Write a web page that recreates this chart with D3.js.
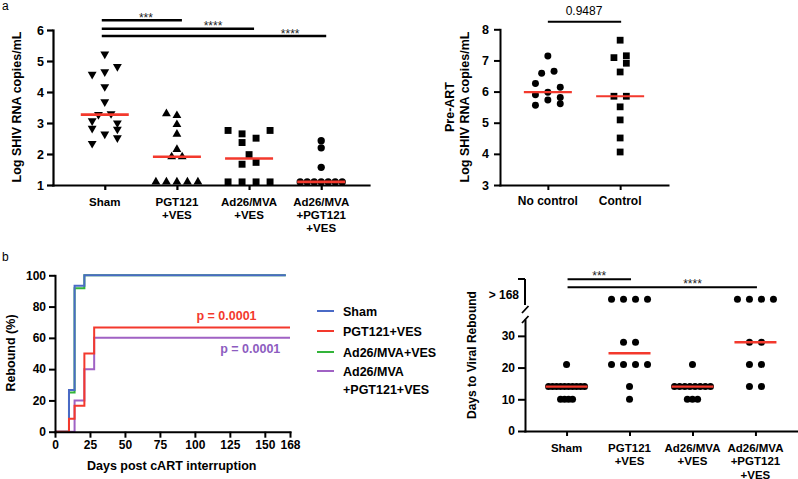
<!DOCTYPE html>
<html><head><meta charset="utf-8">
<script src="https://cdn.jsdelivr.net/npm/d3@7"></script>
<style>
body{margin:0;background:#fff}
svg{display:block}
</style></head><body>
<svg id="c" width="798" height="479"></svg>
<script>
// ---------------- DATA ----------------
const groups = ["Sham", "PGT121+VES", "Ad26/MVA+VES", "Ad26/MVA+PGT121+VES"];
const groupAxisLabels = [["Sham"], ["PGT121", "+VES"], ["Ad26/MVA", "+VES"], ["Ad26/MVA", "+PGT121", "+VES"]];
const legendLabels = [["Sham"], ["PGT121+VES"], ["Ad26/MVA+VES"], ["Ad26/MVA", "+PGT121+VES"]];

// Panel a (left): log SHIV RNA copies/mL
const vlSham  = [5.22, 4.82, 4.57, 4.65, 4.17, 3.68, 3.27, 3.30, 3.07, 3.00, 2.83, 2.80, 2.64, 2.52, 2.34];
const vlPgt   = [3.30, 3.24, 2.95, 2.64, 2.15, 1.91, 1.91, 1.1, 1.1, 1.1, 1.1, 1.1];
const vlAd26  = [2.76, 2.76, 2.65, 2.51, 2.37, 1.98, 1.73, 1.67, 1.1, 1.1, 1.1, 1.1];
const vlCombo = [2.43, 2.20, 1.57, 1.1, 1.1, 1.1, 1.1, 1.1, 1.1, 1.1];
// jitter column index of each point (scatter arrangement)
const colSham  = [0, 1.8, -1.8, 0, 0, 0, -0.9, 0.9, -1.8, 1.8, -1.8, 1.8, 0, 1.8, -1.8];
const colPgt   = [-1.5, 0, 0, 0, 0, -0.75, 0.75, -3, -1.5, 0, 1.5, 3];
const colAd26  = [-3, 3, -1, 1, -1, 0, 1, -1, -3, -1, 1, 3];
const colCombo = [0, 0, 0, -3, -2, -1, 0, 1, 2, 3];
const vlTicks = [1, 2, 3, 4, 5, 6];
const sigPairsA = [[0, 1], [0, 2], [0, 3]];
const sigTextA = ["***", "****", "****"];
const sigTextAtA = [0.57, 1.5, 2.57];

// Panel a (right): pre-ART viral loads
const preGroups = ["No control", "Control"];
const preNoControl = [7.14, 6.65, 6.59, 6.26, 6.14, 5.98, 5.90, 5.81, 5.73, 5.61, 5.56];
const preControl   = [7.65, 7.15, 7.09, 6.91, 6.63, 5.85, 5.85, 5.51, 5.09, 4.51, 4.06];
const colNoControl = [0, 1, -1, -2, 2, 0, -2, 2, 0, 2, -2];
const colControl   = [0, 1, -1, 1, 0, -1, 1, 0, 0, 0, 0];
const preTicks = [3, 4, 5, 6, 7, 8];
const preP = "0.9487";

// Panel b: days to viral rebound (Infinity = no rebound by day 168)
const NR = Infinity;
const daysSham  = [21, 14, 14, 14, 14, 14, 14, 14, 14, 14, 14, 10, 10, 10, 10];
const daysPgt   = [NR, NR, NR, NR, 28, 28, 21, 21, 21, 21, 14, 10];
const daysAd26  = [21, 14, 14, 14, 14, 14, 14, 14, 14, 10, 10, 10];
const daysCombo = [NR, NR, NR, NR, 28, 28, 21, 21, 14, 14];
const followUpEnd = [165, 168, 165, 168];
const kmXTicks = [0, 25, 50, 75, 100, 125, 150, 168];
const kmYTicks = [0, 20, 40, 60, 80, 100];
const kmPValues = ["p = 0.0001", "p = 0.0001"];
const reboundTicks = [0, 10, 20, 30];
const censoredLabel = "> 168";
const sigPairsB = [[0, 1], [0, 3]];
const sigTextB = ["***", "****"];
const sigTextAtB = [0.52, 2.0];

// ---------------- STYLE ----------------
const FONT = '"Liberation Sans", Arial, Helvetica, sans-serif';
const RED = "#f3392d";
const lineColors = ["#4a6ac6", "#f3392d", "#33b43a", "#a062c4"];
const pTextColors = ["#f3392d", "#8d5cc0"];

const svg = d3.select("#c").attr("font-family", FONT);

function styleAxis(g, sw, fs) {
  g.attr("font-family", FONT).attr("font-size", fs || 12).attr("font-weight", "bold");
  g.select(".domain").attr("stroke", "#000").attr("stroke-width", sw).attr("stroke-linecap", "square");
  g.selectAll(".tick line").attr("stroke", "#000").attr("stroke-width", sw);
  g.selectAll(".tick text").attr("fill", "#000");
}
function catLabels(g, scale, labels, y0, lh, fs) {
  labels.forEach((lines, i) => {
    const t = g.append("text").attr("x", scale(i)).attr("y", y0).attr("text-anchor", "middle")
      .attr("font-size", fs).attr("font-weight", "bold").attr("fill", "#000");
    lines.forEach((s, k) => t.append("tspan").attr("x", scale(i)).attr("dy", k === 0 ? 0 : lh).text(s));
  });
}
function yTitle(x, y, txt, fs) {
  svg.append("text").attr("transform", `translate(${x},${y}) rotate(-90)`).attr("text-anchor", "middle")
    .attr("dy", "0.35em").attr("font-size", fs).attr("font-weight", "bold").attr("fill", "#000").text(txt);
}
const triDown = { draw(ctx, size) { const y = -Math.sqrt(size / (Math.sqrt(3) * 3)); ctx.moveTo(0, -y * 2); ctx.lineTo(-Math.sqrt(3) * y, y); ctx.lineTo(Math.sqrt(3) * y, y); ctx.closePath(); } };

// panel letters
svg.append("text").attr("x", 2).attr("y", 10).attr("font-size", 12).text("a");
svg.append("text").attr("x", 2).attr("y", 261).attr("font-size", 12).text("b");

// ---------------- PANEL a left ----------------
{
  const g = svg.append("g");
  const x = d3.scalePoint().domain(d3.range(4)).range([53, 369]).padding(0.69).align(0.52);
  const y = d3.scaleLinear().domain([1, 6]).range([185, 30]);
  const vals = [vlSham, vlPgt, vlAd26, vlCombo];
  const cols = [colSham, colPgt, colAd26, colCombo];
  const syms = [triDown, d3.symbolTriangle, d3.symbolSquare, d3.symbolCircle];
  const sizes = [34, 34, 48, 42];
  const unit = 7;
  vals.forEach((arr, i) => {
    g.selectAll(null).data(arr).join("path")
      .attr("d", d3.symbol(syms[i], sizes[i]))
      .attr("transform", (v, k) => `translate(${x(i) + cols[i][k] * unit},${y(v)})`)
      .attr("fill", "#000");
  });
  vals.forEach((arr, i) => {
    const m = d3.median(arr);
    g.append("line").attr("x1", x(i) - 24).attr("x2", x(i) + 24).attr("y1", y(m)).attr("y2", y(m))
      .attr("stroke", RED).attr("stroke-width", 2.6);
  });
  const ax = g.append("g").attr("transform", "translate(0,185)")
    .call(d3.axisBottom(x).tickSize(5).tickSizeOuter(0).tickFormat(""));
  styleAxis(ax, 2.2);
  const ay = g.append("g").attr("transform", "translate(53,0)")
    .call(d3.axisLeft(y).tickValues(vlTicks).tickSize(6).tickPadding(3).tickSizeOuter(0).tickFormat(d3.format("d")));
  styleAxis(ay, 2.2, 12.5);
  catLabels(g, x, groupAxisLabels, 205.5, 13, 11.5);
  yTitle(17, 107, "Log SHIV RNA copies/mL", 12.5);
  const barY = [20.3, 28.7, 36];
  sigPairsA.forEach(([a, b], k) => {
    g.append("line").attr("x1", x(a) - 3).attr("x2", x(b) + 5).attr("y1", barY[k]).attr("y2", barY[k])
      .attr("stroke", "#000").attr("stroke-width", 2.6);
    const sx = x(0) + sigTextAtA[k] * x.step();
    g.append("text").attr("x", sx).attr("y", barY[k] + 1.5).attr("text-anchor", "middle")
      .attr("font-size", 12).attr("fill", "#222").text(sigTextA[k]);
  });
}

// ---------------- PANEL a right ----------------
{
  const g = svg.append("g");
  const x = d3.scalePoint().domain(d3.range(2)).range([500, 668]).padding(0.662);
  const y = d3.scaleLinear().domain([3, 8]).range([185, 29.3]);
  const vals = [preNoControl, preControl];
  const cols = [colNoControl, colControl];
  const syms = [d3.symbolCircle, d3.symbolSquare];
  const sizes = [38, 46];
  const unit = 6.2;
  vals.forEach((arr, i) => {
    g.selectAll(null).data(arr).join("path")
      .attr("d", d3.symbol(syms[i], sizes[i]))
      .attr("transform", (v, k) => `translate(${x(i) + cols[i][k] * unit},${y(v)})`)
      .attr("fill", "#000");
  });
  vals.forEach((arr, i) => {
    const m = d3.median(arr);
    g.append("line").attr("x1", x(i) - 24).attr("x2", x(i) + 24).attr("y1", y(m)).attr("y2", y(m))
      .attr("stroke", RED).attr("stroke-width", 2.2);
  });
  const ax = g.append("g").attr("transform", "translate(0,185)")
    .call(d3.axisBottom(x).tickSize(5).tickSizeOuter(0).tickFormat(""));
  styleAxis(ax, 2);
  const ay = g.append("g").attr("transform", "translate(500,0)")
    .call(d3.axisLeft(y).tickValues(preTicks).tickSize(6).tickPadding(5).tickSizeOuter(0).tickFormat(d3.format("d")));
  styleAxis(ay, 2, 12.5);
  catLabels(g, x, preGroups.map(s => [s]), 205, 13, 12);
  yTitle(449.5, 107, "Pre-ART", 12.5);
  yTitle(465, 107, "Log SHIV RNA copies/mL", 12.5);
  g.append("line").attr("x1", x(0)).attr("x2", x(1) + 1).attr("y1", 21.7).attr("y2", 21.7)
    .attr("stroke", "#000").attr("stroke-width", 2);
  g.append("text").attr("x", (x(0) + x(1)) / 2).attr("y", 14.5).attr("text-anchor", "middle")
    .attr("font-size", 12).attr("fill", "#000").text(preP);
}

// ---------------- PANEL b left (KM) ----------------
{
  const g = svg.append("g");
  const x = d3.scaleLinear().domain([0, 168]).range([55, 290]);
  const y = d3.scaleLinear().domain([0, 100]).range([431.7, 275.3]);
  const days = [daysSham, daysPgt, daysAd26, daysCombo];
  const line = d3.line().x(d => x(d[0])).y(d => y(d[1])).curve(d3.curveStepAfter);
  const curves = days.map((arr, i) => {
    const n = arr.length;
    const times = Array.from(new Set(arr.filter(isFinite))).sort((a, b) => a - b);
    const pts = [[0, 0]];
    times.forEach(t => pts.push([t, 100 * arr.filter(d => d <= t).length / n]));
    pts.push([followUpEnd[i], pts[pts.length - 1][1]]);
    return pts;
  });
  [2, 0, 3, 1].forEach(i => {
    g.append("path").attr("d", line(curves[i])).attr("fill", "none")
      .attr("stroke", lineColors[i]).attr("stroke-width", 2);
  });
  const ax = g.append("g").attr("transform", "translate(0,431.7)")
    .call(d3.axisBottom(x).tickValues(kmXTicks).tickSize(6).tickPadding(3).tickSizeOuter(0).tickFormat(d3.format("d")));
  styleAxis(ax, 2, 12);
  const ay = g.append("g").attr("transform", "translate(55,0)")
    .call(d3.axisLeft(y).tickValues(kmYTicks).tickSize(6).tickPadding(3).tickSizeOuter(0).tickFormat(d3.format("d")));
  styleAxis(ay, 2, 12);
  g.append("text").attr("x", 171.7).attr("y", 470).attr("text-anchor", "middle").attr("font-size", 12.5)
    .attr("font-weight", "bold").text("Days post cART interruption");
  yTitle(11, 353, "Rebound (%)", 12.5);
  const pPos = [[122.6, 74.6], [139.6, 53.5]];
  kmPValues.forEach((s, k) => {
    g.append("text").attr("x", x(pPos[k][0])).attr("y", y(pPos[k][1])).attr("dy", "0.36em")
      .attr("text-anchor", "middle").attr("font-size", 12.5).attr("font-weight", "bold")
      .attr("fill", pTextColors[k]).text(s);
  });
  // legend
  const ly = [311, 331, 352, 371];
  legendLabels.forEach((lines, i) => {
    g.append("line").attr("x1", 317).attr("x2", 334).attr("y1", ly[i]).attr("y2", ly[i])
      .attr("stroke", lineColors[i]).attr("stroke-width", 2);
    const t = g.append("text").attr("x", 343).attr("y", ly[i] + 4.5).attr("font-size", 12.5).attr("font-weight", "bold");
    lines.forEach((s, k) => t.append("tspan").attr("x", 343).attr("dy", k === 0 ? 0 : 18.5).text(s));
  });
}

// ---------------- PANEL b right ----------------
{
  const g = svg.append("g");
  const x = d3.scalePoint().domain(d3.range(4)).range([525, 797]).padding(0.66);
  const y = d3.scaleLinear().domain([0, 35]).range([431, 320]);
  const yUp = d3.scaleLinear().domain([160, 200]).range([305, 279]);
  const yPos = v => isFinite(v) ? y(v) : yUp(169);
  const days = [daysSham, daysPgt, daysAd26, daysCombo];
  days.forEach((arr, i) => {
    const rows = d3.group(arr, d => d);
    const maxN = d3.max(Array.from(rows.values(), r => r.length));
    const sp = Math.min(12, 36 / Math.max(1, maxN - 1));
    const pts = [];
    rows.forEach((r, v) => r.forEach((d, k) => pts.push([x(i) + (k - (r.length - 1) / 2) * sp, yPos(v)])));
    g.selectAll(null).data(pts).join("circle").attr("cx", d => d[0]).attr("cy", d => d[1])
      .attr("r", 3.5).attr("fill", "#000");
  });
  days.forEach((arr, i) => {
    const s = arr.slice().sort((a, b) => a - b);
    const n = s.length;
    const m = n % 2 ? s[(n - 1) / 2] : (s[n / 2 - 1] + s[n / 2]) / 2;
    g.append("line").attr("x1", x(i) - 21).attr("x2", x(i) + 21).attr("y1", y(m)).attr("y2", y(m))
      .attr("stroke", RED).attr("stroke-width", 2.4);
  });
  const ax = g.append("g").attr("transform", "translate(0,431)")
    .call(d3.axisBottom(x).tickSize(5).tickSizeOuter(0).tickFormat(""));
  styleAxis(ax, 2);
  const ay = g.append("g").attr("transform", "translate(525,0)")
    .call(d3.axisLeft(y).tickValues(reboundTicks).tickSize(7).tickPadding(3).tickSizeOuter(0).tickFormat(d3.format("d")));
  styleAxis(ay, 2, 12);
  // upper (broken) segment
  g.append("line").attr("x1", 525).attr("x2", 525).attr("y1", yUp(160)).attr("y2", yUp(200)).attr("stroke", "#000").attr("stroke-width", 2);
  g.append("line").attr("x1", 518).attr("x2", 525).attr("y1", yUp(200)).attr("y2", yUp(200)).attr("stroke", "#000").attr("stroke-width", 2);
  [309.5, 319.5].forEach(cy => g.append("line").attr("x1", 522).attr("x2", 528.5).attr("y1", cy + 3.5).attr("y2", cy - 3.5)
    .attr("stroke", "#000").attr("stroke-width", 1.8));
  g.append("text").attr("x", 519).attr("y", yUp(176)).attr("dy", "0.36em").attr("text-anchor", "end")
    .attr("font-size", 12).attr("font-weight", "bold").text(censoredLabel);
  catLabels(g, x, groupAxisLabels, 451.5, 13.5, 11.5);
  yTitle(471.7, 355, "Days to Viral Rebound", 12);
  const barY = [279.3, 287.3];
  sigPairsB.forEach(([a, b], k) => {
    g.append("line").attr("x1", x(a) + 1).attr("x2", x(b) + 1.5).attr("y1", barY[k]).attr("y2", barY[k])
      .attr("stroke", "#000").attr("stroke-width", 2);
    g.append("text").attr("x", x(0) + sigTextAtB[k] * x.step()).attr("y", barY[k] + 0.5).attr("text-anchor", "middle")
      .attr("font-size", 12).attr("fill", "#222").text(sigTextB[k]);
  });
}
</script>
</body></html>
